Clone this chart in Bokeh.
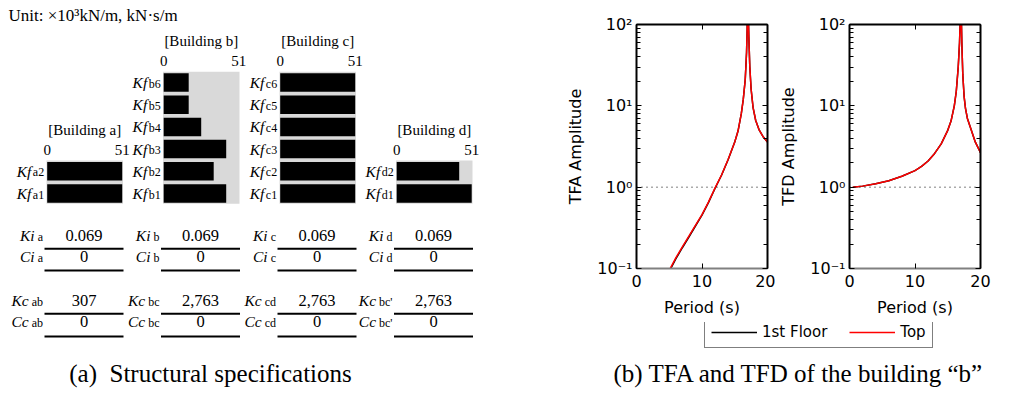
from bokeh.plotting import figure
from bokeh.models import (ColumnDataSource, Range1d, LogAxis, LinearAxis, FixedTicker,
                          LogTicker, CustomJSTickFormatter, Span, Legend, LegendItem)
from bokeh.layouts import row, column
from bokeh.core.properties import value
from bokeh.embed import file_html
from bokeh.resources import INLINE

# ---------------- data ----------------
unit_text = "Unit: \u00d710\u00b3kN/m, kN\u00b7s/m"
buildings = ["a", "b", "c", "d"]
kf_max = 51
kf_a = [51, 51]                          # floors 1..2
kf_b = [42.5, 34, 42.5, 25.5, 17, 17]    # floors 1..6
kf_c = [51, 51, 51, 51, 51, 51]          # floors 1..6
kf_d = [51, 42.5]                        # floors 1..2
ki = [0.069, 0.069, 0.069, 0.069]
ci = [0, 0, 0, 0]
kc_pairs = ["ab", "bc", "cd", "bc'"]
kc = [307, 2763, 2763, 2763]
cc = [0, 0, 0, 0]
caption_a = "(a)\u00a0 Structural specifications"
caption_b = "(b) TFA and TFD of the building \u201cb\u201d"

tfa_period = [5.0, 6.0, 7.0, 8.0, 9.0, 10.0, 11.0, 12.0, 13.0, 14.0, 15.0, 15.5, 16.0, 16.3,
              16.6, 16.8, 16.9, 16.97, 17.05, 17.15, 17.3, 17.5, 17.8, 18.2, 18.7, 19.3, 20.0]
tfa_top = [0.095, 0.135, 0.185, 0.25, 0.34, 0.46, 0.66, 0.98, 1.42, 2.2, 3.6, 4.9, 8.0, 12,
           21, 45, 90, 400, 150, 70, 30, 16, 9.5, 6.6, 5.1, 4.2, 3.6]
tfa_1st = [0.092, 0.131, 0.18, 0.244, 0.333, 0.452, 0.65, 0.97, 1.41, 2.19, 3.6, 4.9, 8.0, 12,
           21, 45, 90, 400, 150, 70, 30, 16, 9.5, 6.6, 5.1, 4.2, 3.6]
tfd_period = [0.5, 2.0, 4.0, 6.0, 8.0, 10.0, 11.0, 12.0, 13.0, 14.0, 15.0, 15.5, 16.0, 16.3,
              16.6, 16.8, 16.9, 16.97, 17.05, 17.15, 17.3, 17.5, 17.7, 18.0, 18.5, 19.2, 20.0]
tfd_top = [1.0, 1.03, 1.1, 1.2, 1.36, 1.6, 1.8, 2.1, 2.6, 3.4, 5.0, 6.5, 10, 15,
           30, 60, 110, 400, 150, 60, 24, 13, 9.4, 7.0, 5.3, 3.6, 2.65]
tfd_1st = [1.0, 1.03, 1.1, 1.2, 1.36, 1.6, 1.8, 2.1, 2.6, 3.4, 5.0, 6.5, 10, 15,
           30, 60, 110, 400, 150, 60, 24, 13, 9.4, 7.0, 5.3, 3.6, 2.65]
period_ticks = [0, 10, 20]
series_labels = ["1st Floor", "Top"]

# ---------------- layout constants ----------------
SERIF = "Liberation Serif"
SANS = "DejaVu Sans"
W, H = 1025, 394
LEFT_W = 560
panel_x0 = [46, 162.5, 279, 395.5]
px_per_unit = 75.0 / kf_max
bg_w = 76.5
row1_y = 193
pitch = 22.2
bar_h = 18.5
SYM_SIZE = 15.5
SUB_SIZE = 12
char_w = {"a": .444, "b": .5, "c": .444, "d": .5, "'": .18}


def sub_width(s, size):
    return sum(char_w.get(ch, .5) for ch in s) * size


def txt(fig, xs, ys, texts, size, align="left", style="normal", font=SERIF, baseline="middle"):
    fig.text(x=xs, y=ys, text=texts, text_font=value(font), text_font_size=f"{size}px",
             text_align=align, text_baseline=baseline, text_font_style=style, text_color="black")


# baseline shift so that subscript and symbol share a baseline when both are "middle"-anchored
sub_dy = 0.34 * (SYM_SIZE - SUB_SIZE)

# ---------------- panel (a) ----------------
L = figure(width=LEFT_W, height=H, x_range=Range1d(0, LEFT_W), y_range=Range1d(H, 0),
           output_backend="svg", toolbar_location=None, min_border=0,
           x_axis_location=None, y_axis_location=None)
L.grid.visible = False
L.outline_line_color = None

txt(L, [8], [14.5], [unit_text], 17)

kf_all = [kf_a, kf_b, kf_c, kf_d]
bg = dict(left=[], right=[], top=[], bottom=[])
bars = dict(left=[], right=[], y=[])
kf_lab = dict(x=[], y=[], t=[])
kf_sub = dict(x=[], y=[], t=[])
titles = dict(x=[], y=[], t=[])
scale = dict(x=[], y=[], t=[])
for b, x0, vals in zip(buildings, panel_x0, kf_all):
    n = len(vals)
    top = row1_y - (n - 1) * pitch - bar_h / 2 - 1.5
    bg["left"].append(x0); bg["right"].append(x0 + bg_w)
    bg["top"].append(top); bg["bottom"].append(row1_y + bar_h / 2 + 1)
    for j, v in enumerate(vals):
        y = row1_y - j * pitch
        bars["left"].append(x0 + 0.7)
        bars["right"].append(x0 + 0.7 + v * px_per_unit)
        bars["y"].append(y)
        s = f"{b}{j + 1}"
        sr = x0 - 2.3
        kf_sub["x"].append(sr); kf_sub["y"].append(y + sub_dy); kf_sub["t"].append(s)
        kf_lab["x"].append(sr - sub_width(s, SUB_SIZE) - 1.5); kf_lab["y"].append(y); kf_lab["t"].append("Kf")
    titles["x"].append(x0 + bg_w / 2); titles["y"].append(top - 30.5); titles["t"].append(f"[Building {b}]")
    for v in (0, kf_max):
        scale["x"].append(x0 + 0.7 + v * px_per_unit); scale["y"].append(top - 10.5); scale["t"].append(str(v))

L.quad(left="left", right="right", top="top", bottom="bottom", source=ColumnDataSource(bg),
       fill_color="#d9d9d9", line_color=None)
L.hbar(y="y", left="left", right="right", height=bar_h, source=ColumnDataSource(bars),
       fill_color="black", line_color=None)
txt(L, kf_sub["x"], kf_sub["y"], kf_sub["t"], SUB_SIZE, align="right")
txt(L, kf_lab["x"], kf_lab["y"], kf_lab["t"], SYM_SIZE, align="right", style="italic")
txt(L, titles["x"], titles["y"], titles["t"], 15, align="center")
txt(L, scale["x"], scale["y"], scale["t"], 15, align="center")


def fmt(v):
    return f"{v:,}" if isinstance(v, int) else f"{v:g}"


table_rows = [("Ki", buildings, ki, 235, 248.3), ("Ci", buildings, ci, 256, 270),
              ("Kc", kc_pairs, kc, 300, 313.3), ("Cc", kc_pairs, cc, 321, 336)]
for sym, subs, vals, yc, line_y in table_rows:
    sx, lx, vx, vt = [], [], [], []
    for x0, s, v in zip(panel_x0, subs, vals):
        sr = x0 - 3.5
        sx.append(sr)
        lx.append(sr - sub_width(s, SUB_SIZE) - 3)
        vx.append(x0 + 37.5)
        vt.append(fmt(v))
    txt(L, sx, [yc + sub_dy] * 4, list(subs), SUB_SIZE, align="right")
    txt(L, lx, [yc] * 4, [sym] * 4, SYM_SIZE, align="right", style="italic")
    txt(L, vx, [yc] * 4, vt, 16.5, align="center")
    L.segment(x0=[x - 2 for x in panel_x0], x1=[x + 77 for x in panel_x0], y0=[line_y] * 4,
              y1=[line_y] * 4, line_color="black", line_width=2)

txt(L, [210], [373], [caption_a], 25, align="center")

# ---------------- panel (b) ----------------
SUP_JS = r"""
const sup = {'-': '\u207b', '0': '\u2070', '1': '\u00b9', '2': '\u00b2', '3': '\u00b3',
             '4': '\u2074', '5': '\u2075', '6': '\u2076', '7': '\u2077', '8': '\u2078', '9': '\u2079'};
const e = Math.round(Math.log10(tick));
return '10' + String(e).split('').map(c => sup[c]).join('');
"""


def style_axis(ax, labels=True):
    ax.major_tick_in = 5
    ax.major_tick_out = 0
    ax.minor_tick_in = 4
    ax.minor_tick_out = 0
    ax.axis_line_width = 2
    ax.axis_line_color = "black"
    ax.major_tick_line_color = "black"
    ax.minor_tick_line_color = "black"
    ax.major_label_text_font = SANS
    ax.major_label_text_font_size = "16px" if labels else "0px"
    ax.major_label_text_color = "black"
    ax.axis_label_text_font = SANS
    ax.axis_label_text_font_size = "16px"
    ax.axis_label_text_font_style = "normal"
    ax.axis_label_text_color = "black"
    if not labels:
        ax.major_label_standoff = 0
        ax.formatter = CustomJSTickFormatter(code="return '';")


TOP_H = 322


def tf_fig(width, lb, rb, ylabel, period, first, top):
    p = figure(width=width, height=TOP_H, x_range=Range1d(0, 20), y_range=Range1d(0.1, 100),
               y_axis_type="log", output_backend="svg", toolbar_location=None,
               min_border_left=lb, min_border_right=rb, min_border_top=24, min_border_bottom=54)
    p.grid.visible = False
    p.outline_line_color = None
    p.add_layout(Span(location=1, dimension="width", line_color="black", line_dash="1 4",
                      line_width=1))
    p.line(period, first, line_color="black", line_width=1.5)
    p.line(period, top, line_color="red", line_width=1.5)
    xa = p.xaxis[0]
    style_axis(xa)
    xa.ticker = FixedTicker(ticks=period_ticks, minor_ticks=[])
    xa.axis_line_color = "#808080"
    xa.axis_label = "Period (s)"
    xa.major_label_standoff = 6
    xa.axis_label_standoff = 8
    ya = p.yaxis[0]
    style_axis(ya)
    ya.formatter = CustomJSTickFormatter(code=SUP_JS)
    ya.axis_label = ylabel
    ya.major_label_standoff = 4
    ya.axis_label_standoff = 9
    ra = LogAxis(ticker=LogTicker())
    style_axis(ra, labels=False)
    p.add_layout(ra, "right")
    ta = LinearAxis(ticker=FixedTicker(ticks=period_ticks, minor_ticks=[]))
    style_axis(ta, labels=False)
    p.add_layout(ta, "above")
    return p


tfa = tf_fig(215, 76, 8, "TFA Amplitude", tfa_period, tfa_1st, tfa_top)
tfd = tf_fig(W - LEFT_W - 215, 74, W - LEFT_W - 215 - 74 - 131, "TFD Amplitude",
             tfd_period, tfd_1st, tfd_top)

B = figure(width=W - LEFT_W, height=H - TOP_H, x_range=Range1d(LEFT_W, W), y_range=Range1d(H, TOP_H),
           output_backend="svg", toolbar_location=None, min_border=0,
           x_axis_location=None, y_axis_location=None)
B.grid.visible = False
B.outline_line_color = None
# legend proxies placed outside the visible range so only their legend glyphs show
r1 = B.line(x=[0, 1], y=[0, 0], line_color="black", line_width=1.5)
r2 = B.line(x=[0, 1], y=[0, 0], line_color="red", line_width=1.5)
leg = Legend(items=[LegendItem(label=series_labels[0], renderers=[r1]),
                    LegendItem(label=series_labels[1], renderers=[r2])],
             orientation="horizontal", location=(144, H - 348),
             glyph_width=46, glyph_height=14, label_height=14, label_standoff=5,
             spacing=22, padding=6, margin=0,
             border_line_color="black", border_line_width=1,
             background_fill_color="white", background_fill_alpha=1,
             label_text_font=SANS, label_text_font_size="15px", label_text_color="black")
B.add_layout(leg)
txt(B, [798.5], [373], [caption_b], 25, align="center")

layout = row(L, column(row(tfa, tfd), B))

with open("out.html", "w", encoding="utf-8") as f:
    f.write(file_html(layout, INLINE))
